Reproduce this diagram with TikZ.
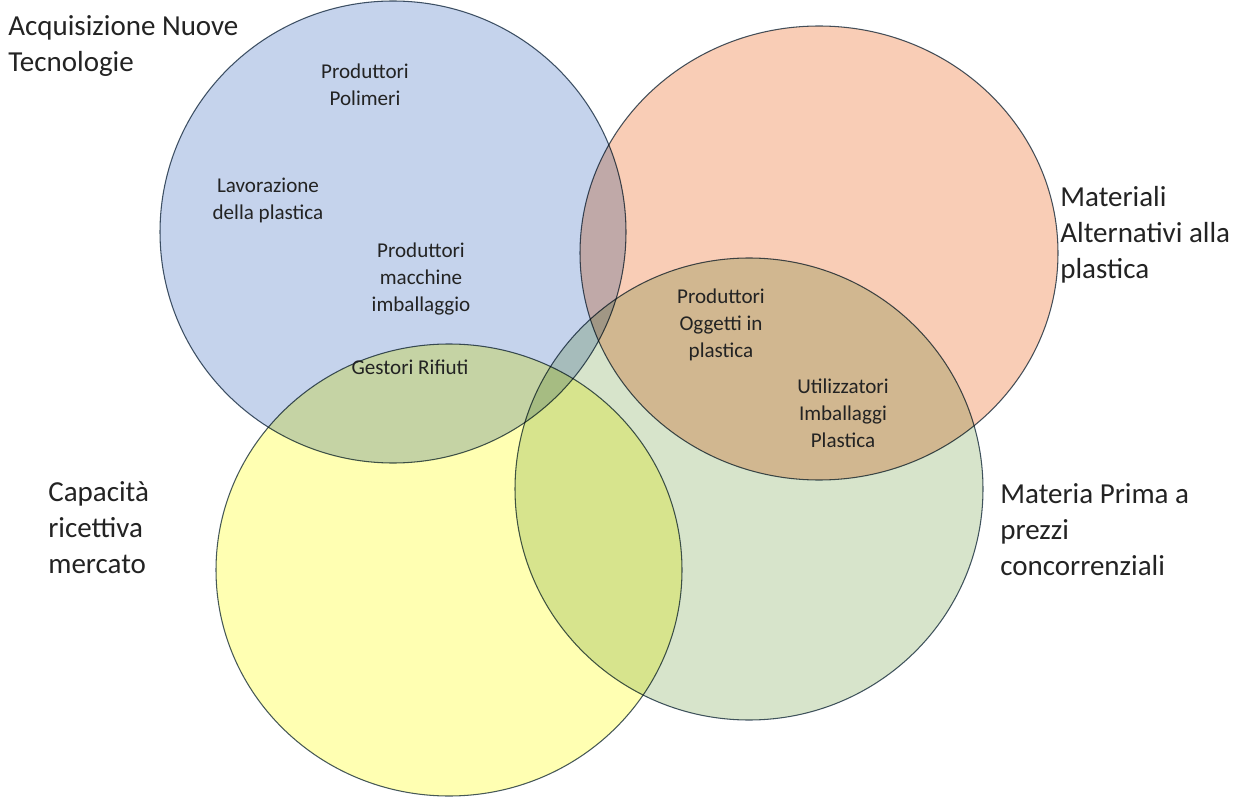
\documentclass[tikz,border=0pt]{standalone}
\usepackage{fontspec}
\setmainfont{Carlito}
\usetikzlibrary{positioning}
\definecolor{setblue}{RGB}{197,211,236}
\definecolor{setorange}{RGB}{249,205,182}
\definecolor{setgreen}{RGB}{215,228,203}
\definecolor{setyellow}{RGB}{255,255,178}
\definecolor{rimgray}{RGB}{70,88,104}
\definecolor{textgray}{RGB}{35,35,35}

\begin{document}
\begin{tikzpicture}[
          x=0.02cm, y=-0.02cm,
          set/.style={draw=rimgray, line width=0.6pt, blend mode=multiply},
          outer/.style={font=\fontsize{16.5}{20.5}\selectfont, align=left,
                        text=textgray, inner sep=0pt, anchor=west},
          inner/.style={font=\fontsize{12}{15.4}\selectfont, align=center,
                        text=textgray, inner sep=0pt},
        ]
        \useasboundingbox (0,0) rectangle (1241,797);

        % the four sets
        \coordinate (cb) at (393,232);
        \coordinate (co) at (819,253);
        \coordinate (cg) at (749,489);
        \coordinate (cy) at (449,570);
        \fill[white] (0,0) rectangle (1241,797);
        \draw[set, fill=setblue]   (cb) ellipse [x radius=233, y radius=231];
        \draw[set, fill=setorange] (co) ellipse [x radius=239, y radius=227];
        \draw[set, fill=setgreen]  (cg) ellipse [x radius=234, y radius=231];
        \draw[set, fill=setyellow] (cy) ellipse [x radius=233, y radius=226];

        % set names
        \node[outer] (acq) at (8,46)    {Acquisizione Nuove\\Tecnologie};
        \node[outer] (mat) at (1060,235) {Materiali\\Alternativi alla\\plastica};
        \node[outer] (mp)  at (1000,530) {Materia Prima a\\prezzi\\concorrenziali};
        \node[outer] (cap) at (48,528)  {Capacità\\ricettiva\\mercato};

        % actors
        \node[inner] (pol) at (365,85)  {Produttori\\Polimeri};
        \node[inner] (lav) at (268,200) {Lavorazione\\della plastica};
        \node[inner] (mac) at (421,279) {Produttori\\macchine\\imballaggio};
        \node[inner] (ges) at (410,367) {Gestori Rifiuti};
        \node[inner] (ogg) at (721,325) {Produttori\\Oggetti in\\plastica};
        \node[inner] (uti) at (843,413) {Utilizzatori\\Imballaggi\\Plastica};
      \end{tikzpicture}
\end{document}
